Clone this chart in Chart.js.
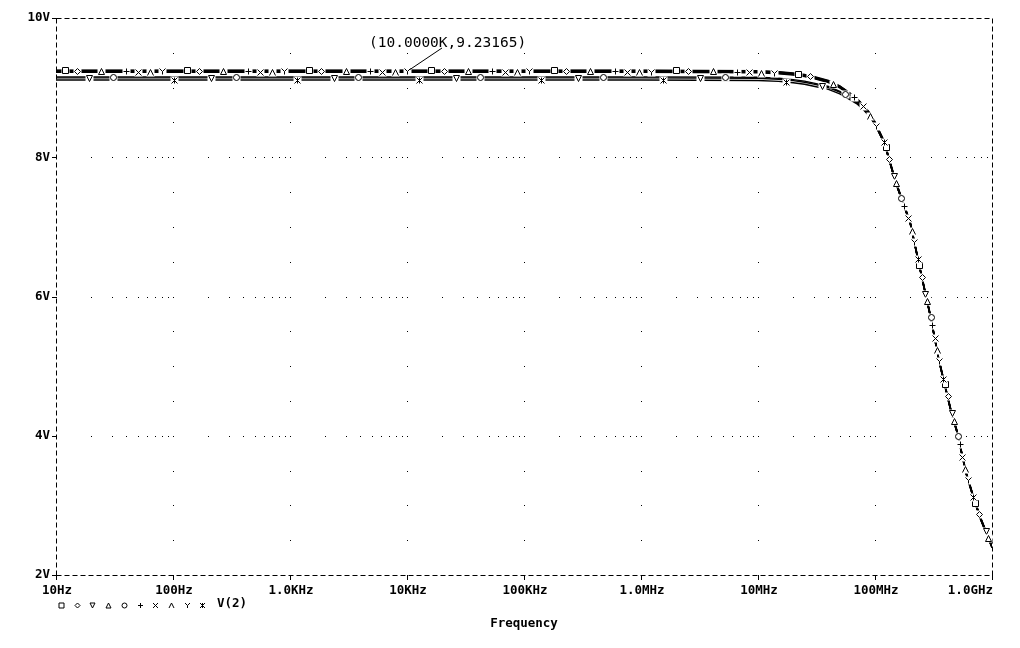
<!DOCTYPE html>
<html><head><meta charset="utf-8">
<script src="https://cdn.jsdelivr.net/npm/chart.js@4.4.1/dist/chart.umd.min.js"></script>
<style>html,body{margin:0;padding:0;background:#fff;}canvas{display:block;}</style>
</head><body>
<canvas id="c" width="1020" height="648"></canvas>
<script>
// ---- data ----
const frequencies = [10,100,1e3,1e4,1e5,1e6,1e7,1.5e7,2e7,2.5e7,3e7,4e7,5e7,6e7,7e7,8e7,9e7,1e8,1.2e8,1.5e8,1.75e8,2e8,2.5e8,3e8,3.5e8,4e8,4.5e8,5e8,6e8,7e8,8e8,9e8,1e9];

const vSquare   = [9.250,9.250,9.250,9.250,9.250,9.250,9.243,9.230,9.210,9.188,9.160,9.103,9.026,8.933,8.846,8.745,8.639,8.510,8.230,7.663,7.348,7.074,6.312,5.709,5.120,4.704,4.345,4.086,3.483,3.109,2.822,2.607,2.420];
const vDiamond  = [9.245,9.245,9.245,9.245,9.245,9.245,9.238,9.225,9.205,9.183,9.155,9.098,9.021,8.928,8.841,8.740,8.634,8.505,8.225,7.658,7.343,7.069,6.307,5.704,5.115,4.699,4.340,4.081,3.478,3.104,2.817,2.602,2.415];
const vTriDown  = [9.140,9.140,9.140,9.140,9.140,9.140,9.133,9.120,9.100,9.078,9.050,9.002,8.934,8.855,8.782,8.690,8.593,8.474,8.203,7.642,7.328,7.054,6.292,5.690,5.104,4.690,4.332,4.075,3.475,3.103,2.818,2.606,2.424];
const vTriUp    = [9.238,9.238,9.238,9.238,9.238,9.238,9.231,9.218,9.198,9.176,9.148,9.091,9.014,8.921,8.834,8.733,8.627,8.498,8.218,7.651,7.336,7.062,6.300,5.697,5.108,4.692,4.333,4.074,3.471,3.097,2.810,2.595,2.408];
const vCircle   = [9.155,9.155,9.155,9.155,9.155,9.155,9.148,9.135,9.115,9.093,9.065,9.016,8.946,8.865,8.790,8.696,8.598,8.477,8.204,7.640,7.326,7.050,6.290,5.688,5.100,4.683,4.325,4.066,3.463,3.090,2.802,2.600,2.440];
const vPlus     = [9.235,9.235,9.235,9.235,9.235,9.235,9.228,9.215,9.195,9.173,9.145,9.088,9.011,8.918,8.831,8.730,8.624,8.495,8.215,7.648,7.333,7.059,6.297,5.694,5.105,4.689,4.330,4.071,3.468,3.094,2.807,2.592,2.405];
const vCross    = [9.226,9.226,9.226,9.226,9.226,9.226,9.219,9.206,9.186,9.164,9.136,9.079,9.002,8.909,8.822,8.721,8.615,8.486,8.206,7.639,7.324,7.050,6.288,5.685,5.096,4.680,4.321,4.062,3.459,3.085,2.798,2.583,2.396];
const vLambda   = [9.220,9.220,9.220,9.220,9.220,9.220,9.213,9.200,9.180,9.158,9.130,9.073,8.996,8.903,8.816,8.715,8.609,8.480,8.200,7.633,7.318,7.044,6.282,5.679,5.090,4.674,4.315,4.056,3.453,3.079,2.792,2.577,2.390];
const vY        = [9.23165,9.23165,9.23165,9.23165,9.23165,9.23165,9.225,9.212,9.192,9.170,9.142,9.085,9.008,8.915,8.828,8.727,8.621,8.492,8.212,7.645,7.330,7.056,6.294,5.691,5.102,4.686,4.327,4.068,3.465,3.091,2.804,2.589,2.402];
const vStar     = [9.110,9.110,9.110,9.110,9.110,9.110,9.103,9.090,9.070,9.048,9.020,8.975,8.910,8.836,8.767,8.678,8.584,8.468,8.200,7.638,7.322,7.048,6.286,5.684,5.096,4.680,4.321,4.062,3.459,3.086,2.799,2.584,2.398];

const seriesValues = [vSquare,vDiamond,vTriDown,vTriUp,vCircle,vPlus,vCross,vLambda,vY,vStar];
const markerKinds  = ['square','diamond','triDown','triUp','circle','plus','cross','lambda','Y','star'];
const legendLabel  = 'V(2)';

const xTickValues = [10,100,1e3,1e4,1e5,1e6,1e7,1e8,1e9];
const xTickLabels = ['10Hz','100Hz','1.0KHz','10KHz','100KHz','1.0MHz','10MHz','100MHz','1.0GHz'];
const yTickValues = [2,4,6,8,10];
const yTickLabels = ['2V','4V','6V','8V','10V'];
const xTitle = 'Frequency';
const cursorFreq = 1e4, cursorValue = 9.23165;
const cursorLabel = '(10.0000K,9.23165)';

// ---- drawing helpers ----
const BOLD = 'bold 12.5px "DejaVu Sans Mono", monospace';
function drawMarker(ctx, kind, x, y, r, clearBg){
  x = Math.round(x)+0.5; y = Math.round(y)+0.5;
  ctx.save();
  ctx.lineWidth = 1; ctx.strokeStyle = '#000'; ctx.fillStyle = '#fff';
  if (clearBg) ctx.fillRect(x-r-1, y-r-1, 2*r+2, 2*r+2);
  ctx.beginPath();
  switch(kind){
    case 'square': ctx.rect(x-r, y-r, 2*r, 2*r); ctx.fill(); ctx.stroke(); break;
    case 'diamond': ctx.moveTo(x,y-r);ctx.lineTo(x+r,y);ctx.lineTo(x,y+r);ctx.lineTo(x-r,y);ctx.closePath();ctx.fill();ctx.stroke();break;
    case 'triUp': ctx.moveTo(x,y-r);ctx.lineTo(x+r,y+r);ctx.lineTo(x-r,y+r);ctx.closePath();ctx.fill();ctx.stroke();break;
    case 'triDown': ctx.moveTo(x-r,y-r);ctx.lineTo(x+r,y-r);ctx.lineTo(x,y+r);ctx.closePath();ctx.fill();ctx.stroke();break;
    case 'circle': ctx.arc(x,y,r,0,Math.PI*2);ctx.fill();ctx.stroke();break;
    case 'plus': ctx.moveTo(x-r,y);ctx.lineTo(x+r,y);ctx.moveTo(x,y-r);ctx.lineTo(x,y+r);ctx.stroke();break;
    case 'cross': ctx.moveTo(x-r,y-r);ctx.lineTo(x+r,y+r);ctx.moveTo(x+r,y-r);ctx.lineTo(x-r,y+r);ctx.stroke();break;
    case 'lambda': ctx.moveTo(x-r,y+r);ctx.lineTo(x,y-r);ctx.lineTo(x+r,y+r);ctx.stroke();break;
    case 'Y': ctx.moveTo(x-r,y-r);ctx.lineTo(x,y);ctx.lineTo(x+r,y-r);ctx.moveTo(x,y);ctx.lineTo(x,y+r);ctx.stroke();break;
    case 'star': ctx.moveTo(x-r,y-r);ctx.lineTo(x+r,y+r);ctx.moveTo(x+r,y-r);ctx.lineTo(x-r,y+r);ctx.moveTo(x,y-r);ctx.lineTo(x,y+r);ctx.stroke();break;
  }
  ctx.restore();
}

const framePlugin = {
  id:'pspiceFrame',
  beforeDatasetsDraw(chart){
    const {ctx, chartArea:a, scales:{x, y}} = chart;
    ctx.save();
    ctx.fillStyle = '#000';
    const innerY = yTickValues.filter(v => v > y.min && v < y.max);
    innerY.forEach(v => {
      const py = Math.round(y.getPixelForValue(v));
      for (let d = 1; d < 9; d++) for (let m = 1; m <= 9; m++) {
        const px = Math.round(x.getPixelForValue(m*Math.pow(10,d)));
        if (px > a.left && px < a.right) ctx.fillRect(px, py, 1, 1);
      }
    });
    xTickValues.filter(v => v > x.min && v < x.max).forEach(v => {
      const px = Math.round(x.getPixelForValue(v));
      for (let k = y.min + 0.5; k < y.max; k += 0.5) {
        ctx.fillRect(px, Math.round(y.getPixelForValue(k)), 1, 1);
      }
    });
    ctx.strokeStyle = '#000'; ctx.lineWidth = 1; ctx.setLineDash([5,3]);
    const L = a.left + 0.5, R = a.right + 0.5, T = a.top + 0.5, B = a.bottom + 0.5;
    ctx.beginPath();
    ctx.moveTo(L,T); ctx.lineTo(R,T);
    ctx.moveTo(L,B); ctx.lineTo(R,B);
    ctx.moveTo(L,T); ctx.lineTo(L,B);
    ctx.moveTo(R,T); ctx.lineTo(R,B);
    ctx.stroke();
    ctx.setLineDash([]);
    ctx.beginPath();
    yTickValues.forEach(v => { const py = Math.round(y.getPixelForValue(v))+0.5; ctx.moveTo(a.left-4, py); ctx.lineTo(a.left+1, py); });
    xTickValues.forEach(v => { const px = Math.round(x.getPixelForValue(v))+0.5; ctx.moveTo(px, a.bottom); ctx.lineTo(px, a.bottom+5); });
    ctx.stroke();
    ctx.font = BOLD; ctx.textBaseline = 'middle';
    xTickValues.forEach((v,i) => {
      const px = x.getPixelForValue(v);
      if (i === xTickValues.length-1) { ctx.textAlign = 'right'; ctx.fillText(xTickLabels[i], px+1, 591); }
      else { ctx.textAlign = 'center'; ctx.fillText(xTickLabels[i], px+1, 591); }
    });
    ctx.textAlign = 'center';
    ctx.fillText(xTitle, 524, 624);
    ctx.restore();
  },
  afterDatasetsDraw(chart){
    const {ctx, scales:{x, y}} = chart;
    const OFF0 = 8.5, STEP = 12.2, PERIOD = 122.3;
    chart.data.datasets.forEach((ds, i) => {
      const pts = chart.getDatasetMeta(i).data;
      const cum = [0];
      for (let k = 1; k < pts.length; k++) cum.push(cum[k-1] + Math.hypot(pts[k].x-pts[k-1].x, pts[k].y-pts[k-1].y));
      const total = cum[cum.length-1];
      let k = 0;
      for (let s = OFF0 + STEP*i; s <= total; s += PERIOD) {
        while (k < cum.length-2 && cum[k+1] < s) k++;
        const t = (s - cum[k]) / (cum[k+1] - cum[k]);
        const px = pts[k].x + t*(pts[k+1].x - pts[k].x);
        const py = pts[k].y + t*(pts[k+1].y - pts[k].y);
        drawMarker(ctx, markerKinds[i], px, py, 3, true);
      }
    });
    ctx.save();
    const cx = x.getPixelForValue(cursorFreq), cy = y.getPixelForValue(cursorValue);
    ctx.strokeStyle = '#000'; ctx.lineWidth = 1;
    ctx.beginPath(); ctx.moveTo(cx+35, 48); ctx.lineTo(cx+3, cy-2); ctx.stroke();
    ctx.fillStyle = '#000';
    ctx.font = '14.5px "DejaVu Sans Mono", monospace';
    ctx.textAlign = 'left'; ctx.textBaseline = 'alphabetic';
    ctx.fillText(cursorLabel, cx-38, 47);
    markerKinds.forEach((kind, i) => drawMarker(ctx, kind, 61 + i*15.7, 605, 2.5, false));
    ctx.font = BOLD; ctx.textBaseline = 'middle';
    ctx.fillText(legendLabel, 217, 604);
    ctx.restore();
  }
};

const datasets = seriesValues.map((vals, i) => ({
  label: markerKinds[i],
  data: frequencies.map((f, k) => ({x: f, y: vals[k]})),
  borderColor: '#000', borderWidth: 1.4, pointRadius: 0, tension: 0, fill: false
}));

new Chart(document.getElementById('c'), {
  type: 'line',
  data: { datasets },
  options: {
    responsive: false, animation: false, devicePixelRatio: 1,
    layout: { padding: { top: 18, right: 28, left: 0, bottom: 0 } },
    plugins: { legend: { display: false }, tooltip: { enabled: false } },
    scales: {
      x: {
        type: 'logarithmic', min: 10, max: 1e9,
        grid: { display: false }, border: { display: false },
        ticks: { display: false },
        afterBuildTicks(s){ s.ticks = xTickValues.map(v => ({value: v})); },
        afterFit(s){ s.height = 73; }
      },
      y: {
        type: 'linear', min: 2, max: 10,
        grid: { display: false, drawTicks: false }, border: { display: false },
        ticks: {
          padding: 6, color: '#000',
          font: { family: '"DejaVu Sans Mono", monospace', size: 12.5, weight: 'bold' },
          callback: (v) => { const i = yTickValues.indexOf(v); return i >= 0 ? yTickLabels[i] : ''; }
        },
        afterBuildTicks(s){ s.ticks = yTickValues.map(v => ({value: v})); },
        afterFit(s){ s.width = 56; }
      }
    }
  },
  plugins: [framePlugin]
});
</script>
</body></html>
